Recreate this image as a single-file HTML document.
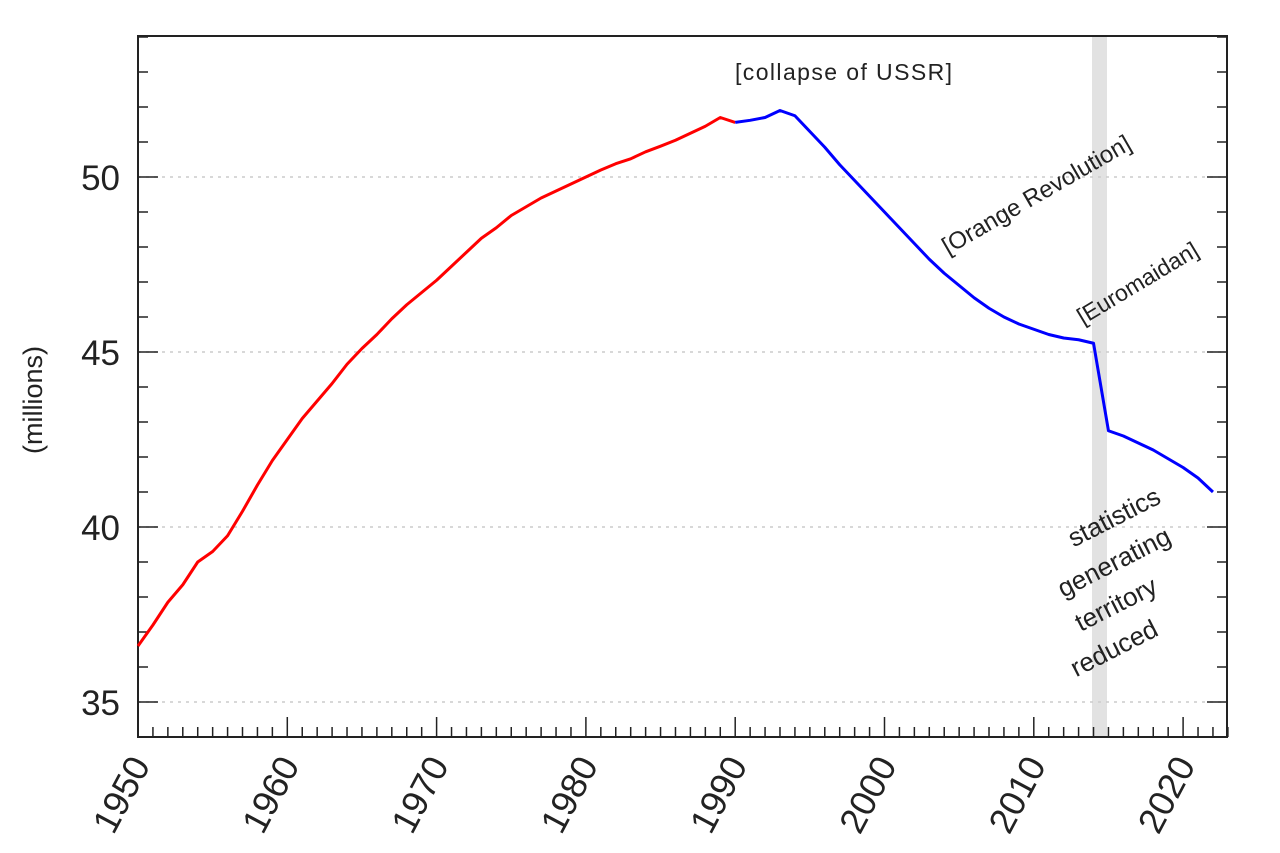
<!DOCTYPE html>
<html><head><meta charset="utf-8"><style>
html,body{margin:0;padding:0;background:#fff}
svg{display:block;font-family:"Liberation Sans",sans-serif}
</style></head><body>
<svg width="1280" height="853" viewBox="0 0 1280 853">
<rect x="1092" y="37" width="15" height="700" fill="#e2e2e2"/>
<g stroke="#ccc" stroke-width="1.5" stroke-dasharray="3,5">
<line x1="138" y1="177" x2="1227" y2="177"/>
<line x1="138" y1="352" x2="1227" y2="352"/>
<line x1="138" y1="527" x2="1227" y2="527"/>
<line x1="138" y1="702" x2="1227" y2="702"/>
</g>
<g id="ticks" stroke="#222" stroke-width="1.5"></g>
<rect x="138" y="36" width="1089" height="701" fill="none" stroke="#222" stroke-width="2"/>
<g transform="matrix(14.93,0,0,-35,-28975.5,1927)" fill="none" stroke-width="3" stroke-linejoin="round">
<polyline vector-effect="non-scaling-stroke" stroke="#ff0000" points="1950,36.6 1951,37.2 1952,37.85 1953,38.35 1954,39.0 1955,39.3 1956,39.75 1957,40.45 1958,41.2 1959,41.9 1960,42.5 1961,43.1 1962,43.6 1963,44.1 1964,44.65 1965,45.1 1966,45.5 1967,45.95 1968,46.35 1969,46.7 1970,47.05 1971,47.45 1972,47.85 1973,48.25 1974,48.55 1975,48.9 1976,49.15 1977,49.4 1978,49.6 1979,49.8 1980,50.0 1981,50.2 1982,50.38 1983,50.52 1984,50.72 1985,50.88 1986,51.05 1987,51.25 1988,51.45 1989,51.7 1990,51.56"/>
<polyline vector-effect="non-scaling-stroke" stroke="#0000ff" points="1990,51.56 1991,51.62 1992,51.7 1993,51.9 1994,51.75 1995,51.3 1996,50.85 1997,50.35 1998,49.9 1999,49.45 2000,49.0 2001,48.55 2002,48.1 2003,47.65 2004,47.25 2005,46.9 2006,46.55 2007,46.25 2008,46.0 2009,45.8 2010,45.65 2011,45.5 2012,45.4 2013,45.35 2014,45.25 2015,42.75 2016,42.6 2017,42.4 2018,42.2 2019,41.95 2020,41.7 2021,41.4 2022,41.0"/>
</g>
<g font-size="35" fill="#222" text-anchor="end">
<text x="120" y="190">50</text><text x="120" y="365">45</text><text x="120" y="540">40</text><text x="120" y="715">35</text>
</g>
<text transform="translate(42,400) rotate(-90)" font-size="27" fill="#222" text-anchor="middle">(millions)</text>
<g id="xl" font-size="36" fill="#222" text-anchor="end"></g>
<text x="735" y="80" font-size="23" fill="#222" textLength="217">[collapse of USSR]</text>
<text transform="translate(948,255) rotate(-30)" font-size="24" fill="#222">[Orange Revolution]</text>
<text transform="translate(1083,325) rotate(-31)" font-size="23" fill="#222">[Euromaidan]</text>
<g font-size="26" fill="#222" text-anchor="middle">
<text transform="translate(1118,525) rotate(-27)">statistics</text>
<text transform="translate(1118,570) rotate(-27)">generating</text>
<text transform="translate(1120,612) rotate(-27)">territory</text>
<text transform="translate(1118,656) rotate(-27)">reduced</text>
</g>
</svg>
<script>
var ns="http://www.w3.org/2000/svg",t=document.getElementById("ticks"),xl=document.getElementById("xl");
function L(a,b,c,d){var l=document.createElementNS(ns,"line");l.setAttribute("x1",a);l.setAttribute("y1",b);l.setAttribute("x2",c);l.setAttribute("y2",d);t.appendChild(l);}
for(var y=1950;y<=2023;y++){var x=138+(y-1950)*14.93;var m=(y%10==0);L(x,737,x,737-(m?20:10));}
for(var v=35;v<=54;v++){var yy=177-(v-50)*35;var m=(v%5==0);L(138,yy,138+(m?20:10),yy);L(1227,yy,1227-(m?20:10),yy);}
for(var y=1950;y<=2020;y+=10){var x=138+(y-1950)*14.93;var s=document.createElementNS(ns,"text");s.setAttribute("transform","translate("+(x+13)+",765) rotate(-62)");s.textContent=y;xl.appendChild(s);}
</script>
</body></html>
